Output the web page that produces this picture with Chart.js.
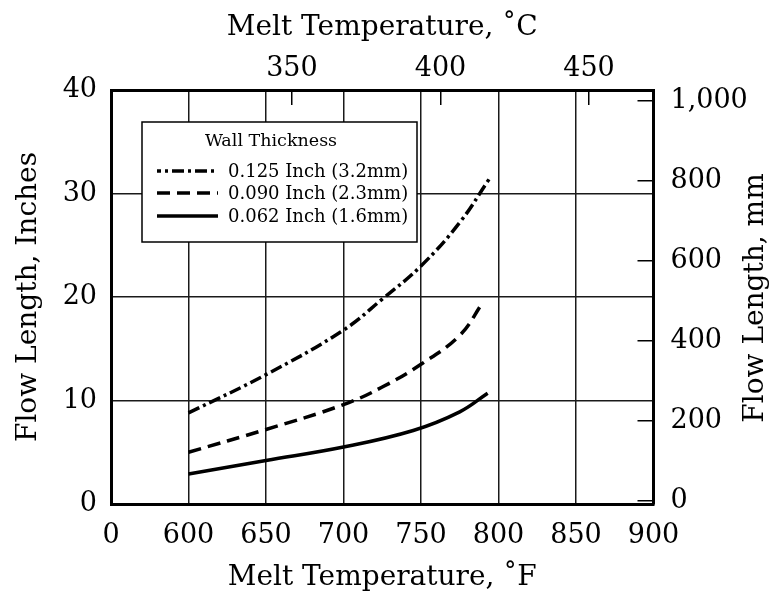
<!DOCTYPE html>
<html>
<head>
<meta charset="utf-8">
<script src="https://cdn.jsdelivr.net/npm/chart.js@4.4.1/dist/chart.umd.min.js"></script>
<style>
  html, body { margin: 0; padding: 0; background: #fff; }
  #wrap { width: 774px; height: 599px; }
</style>
</head>
<body>
<div id="wrap"><canvas id="flow" width="774" height="599"></canvas></div>
<script>
// readings per wall thickness: melt temperature (F) and flow length (inches)
const temps125 = [600, 650, 700, 725, 750, 775, 794];
const flow125  = [8.8, 12.5, 16.8, 19.8, 23.0, 27.2, 31.4];

const temps090 = [600, 650, 700, 725, 750, 775, 790];
const flow090  = [5.0, 7.2, 9.6, 11.3, 13.5, 16.3, 19.5];

const temps062 = [600, 650, 700, 745, 775, 793];
const flow062  = [2.9, 4.2, 5.5, 7.1, 8.9, 10.7];

const seriesLabels = ['0.125 Inch (3.2mm)', '0.090 Inch (2.3mm)', '0.062 Inch (1.6mm)'];

// axis ticks
const celsiusTicks = [350, 400, 450];
const mmTicks = [0, 200, 400, 600, 800, 1000];

const pts = (xs, ys) => xs.map((x, i) => ({ x: x, y: ys[i] }));

Chart.defaults.font.family = "'DejaVu Serif', serif";
Chart.defaults.color = '#000';

const gridColor = '#1a1a1a';

// legend box + right-hand title, drawn on top of the plot
const extras = {
  id: 'extras',
  afterDraw(chart) {
    const ctx = chart.ctx;
    ctx.save();

    // legend
    const bx = 142, by = 122, bw = 275, bh = 120;
    ctx.fillStyle = '#fff';
    ctx.fillRect(bx, by, bw, bh);
    ctx.strokeStyle = '#000';
    ctx.lineWidth = 1.5;
    ctx.strokeRect(bx, by, bw, bh);

    ctx.fillStyle = '#000';
    ctx.textBaseline = 'middle';
    ctx.textAlign = 'center';
    ctx.font = "17.5px 'DejaVu Serif'";
    ctx.fillText('Wall Thickness', 271, 141);

    ctx.textAlign = 'left';
    ctx.font = "18px 'DejaVu Serif'";
    const rows = [171, 193, 216];
    chart.data.datasets.forEach((ds, i) => {
      ctx.beginPath();
      ctx.setLineDash(ds.borderDash || []);
      ctx.lineDashOffset = i === 0 ? 8 : 0;
      ctx.lineWidth = ds.borderWidth;
      ctx.moveTo(157, rows[i]);
      ctx.lineTo(218, rows[i]);
      ctx.stroke();
      ctx.setLineDash([]);
      ctx.fillText(ds.label, 228, rows[i] + 1);
    });

    // right axis title reads bottom-to-top
    ctx.translate(756, 298);
    ctx.rotate(-Math.PI / 2);
    ctx.textAlign = 'center';
    ctx.font = "28px 'DejaVu Serif'";
    ctx.fillText('Flow Length, mm', 0, 0);
    ctx.restore();
  }
};

new Chart(document.getElementById('flow'), {
  type: 'line',
  data: {
    datasets: [
      { label: seriesLabels[0], data: pts(temps125, flow125), borderDash: [12, 4, 3, 4] },
      { label: seriesLabels[1], data: pts(temps090, flow090), borderDash: [13, 7] },
      { label: seriesLabels[2], data: pts(temps062, flow062), borderDash: [] }
    ].map(ds => Object.assign(ds, {
      borderColor: '#000',
      borderWidth: 3.5,
      pointRadius: 0,
      fill: false,
      tension: 0.4,
      xAxisID: 'x',
      yAxisID: 'y'
    }))
  },
  options: {
    responsive: false,
    animation: false,
    layout: { padding: 0 },
    plugins: { legend: { display: false }, tooltip: { enabled: false } },
    scales: {
      x: {
        type: 'linear', position: 'bottom', min: 550, max: 900,
        ticks: { stepSize: 50, padding: 16, font: { size: 27 }, maxRotation: 0, autoSkip: false,
                 callback: v => v === 550 ? '0' : String(v) },
        grid: { color: gridColor, lineWidth: 1.5, drawTicks: false },
        border: { color: '#000', width: 3 },
        title: { display: true, text: 'Melt Temperature, ˚F', font: { size: 28 }, padding: { bottom: 4 } },
        afterFit: s => { s.height = 95; }
      },
      x2: {
        type: 'linear', position: 'top', min: 289.1, max: 471.7,
        afterBuildTicks: s => { s.ticks = celsiusTicks.map(v => ({ value: v })); },
        ticks: { padding: 19.5, font: { size: 27 }, maxRotation: 0, callback: v => String(v) },
        grid: { drawOnChartArea: false, tickLength: -15, color: '#000', lineWidth: 1.5 },
        border: { color: '#000', width: 3 },
        title: { display: true, text: 'Melt Temperature, ˚C', font: { size: 28 }, padding: { top: 11 } },
        afterFit: s => { s.height = 90; }
      },
      y: {
        position: 'left', min: 0, max: 40,
        ticks: { stepSize: 10, padding: 14, font: { size: 27 } },
        grid: { color: gridColor, lineWidth: 1.5, drawTicks: false },
        border: { color: '#000', width: 3 },
        title: { display: true, text: 'Flow Length, Inches', font: { size: 28 }, padding: { top: 12 } },
        afterFit: s => { s.width = 111; }
      },
      y2: {
        position: 'right', min: -8, max: 1027,
        afterBuildTicks: s => { s.ticks = mmTicks.map(v => ({ value: v })); },
        ticks: { padding: 33, font: { size: 27 }, callback: v => v.toLocaleString('en-US') },
        grid: { drawOnChartArea: false, tickLength: -16, color: '#000', lineWidth: 1.5 },
        border: { color: '#000', width: 3 },
        afterFit: s => { s.width = 120.5; }
      }
    }
  },
  plugins: [extras]
});
</script>
</body>
</html>
